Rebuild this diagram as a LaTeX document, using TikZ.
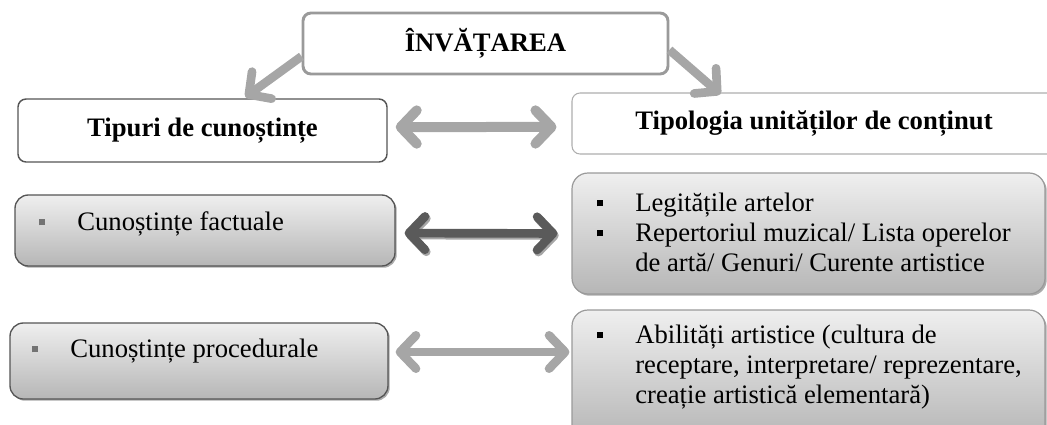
\documentclass[tikz,border=0pt]{standalone}
\usepackage{fontspec}
\setmainfont{Liberation Serif}
\usepackage{tikz}
\usetikzlibrary{arrows.meta,shadows}
\definecolor{arrowLight}{HTML}{A6A6A6}
\definecolor{arrowDark}{HTML}{5A5A5A}
\definecolor{edgeDark}{HTML}{555555}
\definecolor{edgeLight}{HTML}{9A9A9A}
\definecolor{fillTop}{HTML}{EFEFEF}
\definecolor{fillBottom}{HTML}{B6B6B6}
\newcommand{\sqbullet}[1]{\textcolor{#1}{\raisebox{3.5pt}{\rule{5pt}{5pt}}}}
\newcommand{\bodyfont}{\fontsize{20}{22.5}\selectfont}

\begin{document}
\begin{tikzpicture}[x=0.75pt,y=-0.75pt,
  every node/.style={font=\bodyfont},
  headbox/.style={draw, rounded corners=6pt, inner sep=0pt, font=\bodyfont\bfseries},
  itembox/.style={draw, rounded corners=10pt, inner sep=0pt, top color=fillTop, bottom color=fillBottom,
    drop shadow={shadow xshift=1.3pt, shadow yshift=-1.3pt, fill=black!55, opacity=.6}},
  itemtext/.style={inner sep=0pt, anchor=base west},
  >={Straight Barb[length=12pt, width=25pt, round]},
  bigarrow/.style={line width=6.5pt, draw=arrowLight}]
\useasboundingbox (0,0) rectangle (1047,425);
\clip (0,0) rectangle (1047,425);

%header row
\node[headbox, draw=edgeLight, line width=2.2pt, minimum width=273.75pt, minimum height=45.75pt] (learning) at (485.5,43.5) {ÎNVĂȚAREA};
\node[headbox, draw=edgeDark, line width=1.1pt, minimum width=276.75pt, minimum height=47.25pt]  (typesKnow) at (202.5,130.5) {Tipuri de cunoștințe};
\node[headbox, draw=edgeLight!80, line width=.8pt, minimum width=363pt, minimum height=45.75pt]  (typology) at (814,123.5) {Tipologia unităților de conținut};

%left column
\node[itembox, draw=edgeDark, line width=1pt, minimum width=285pt, minimum height=53.25pt] (factual) at (205,230.5) {};
\node[itembox, draw=edgeDark, line width=1pt, minimum width=283.5pt, minimum height=57pt] (procedural) at (199,361) {};
\node[itemtext] (factualText) at (38.5,230) {\makebox[28.9pt][l]{\sqbullet{black!55}}Cunoștințe factuale};
\node[itemtext] (proceduralText) at (31.5,357) {\makebox[28.9pt][l]{\sqbullet{black!55}}Cunoștințe procedurale};

%right column
\node[itembox, draw=edgeLight, line width=.9pt, rounded corners=12pt, minimum width=354.75pt, minimum height=90.75pt] (contentOne) at (808.5,233.5) {};
\node[itembox, draw=edgeLight, line width=.9pt, rounded corners=12pt, minimum width=354.75pt, minimum height=97.5pt] (contentTwo) at (808.5,375) {};
\node[itemtext] (contentOneText) at (596.5,211) {\begin{tabular}[t]{@{}p{28.9pt}@{}l@{}}
  \sqbullet{black} & Legitățile artelor\\
  \sqbullet{black} & Repertoriul muzical/ Lista operelor\\
                   & de artă/ Genuri/ Curente artistice
  \end{tabular}};
\node[itemtext] (contentTwoText) at (596.5,343) {\begin{tabular}[t]{@{}p{28.9pt}@{}l@{}}
  \sqbullet{black} & Abilități artistice (cultura de\\
                   & receptare, interpretare/ reprezentare,\\
                   & creație artistică elementară)
  \end{tabular}};

%arrows
\draw[bigarrow, ->, shorten >=1.5pt] (learning.184) -- (typesKnow.38);
\draw[bigarrow, ->, shorten >=-2pt] (learning.-2) -- (typology.162);
\draw[bigarrow, <->, line width=7.5pt, shorten <=6pt, shorten >=11.25pt] ([yshift=2.6pt]typesKnow.east) -- ([yshift=-2.6pt]typology.west);
\draw[bigarrow, <->, transform canvas={xshift=1pt, yshift=-1.5pt}, shorten <=6.75pt, shorten >=10.5pt] ([yshift=-1.9pt]factual.east) -- (contentOne.west);
\draw[bigarrow, <->, draw=arrowDark, shorten <=6.75pt, shorten >=10.5pt] ([yshift=-1.9pt]factual.east) -- (contentOne.west);
\draw[bigarrow, <->, shorten <=5.25pt, shorten >=1.5pt] ([yshift=6.75pt]procedural.east) -- ([yshift=17.25pt]contentTwo.west);
\end{tikzpicture}
\end{document}
